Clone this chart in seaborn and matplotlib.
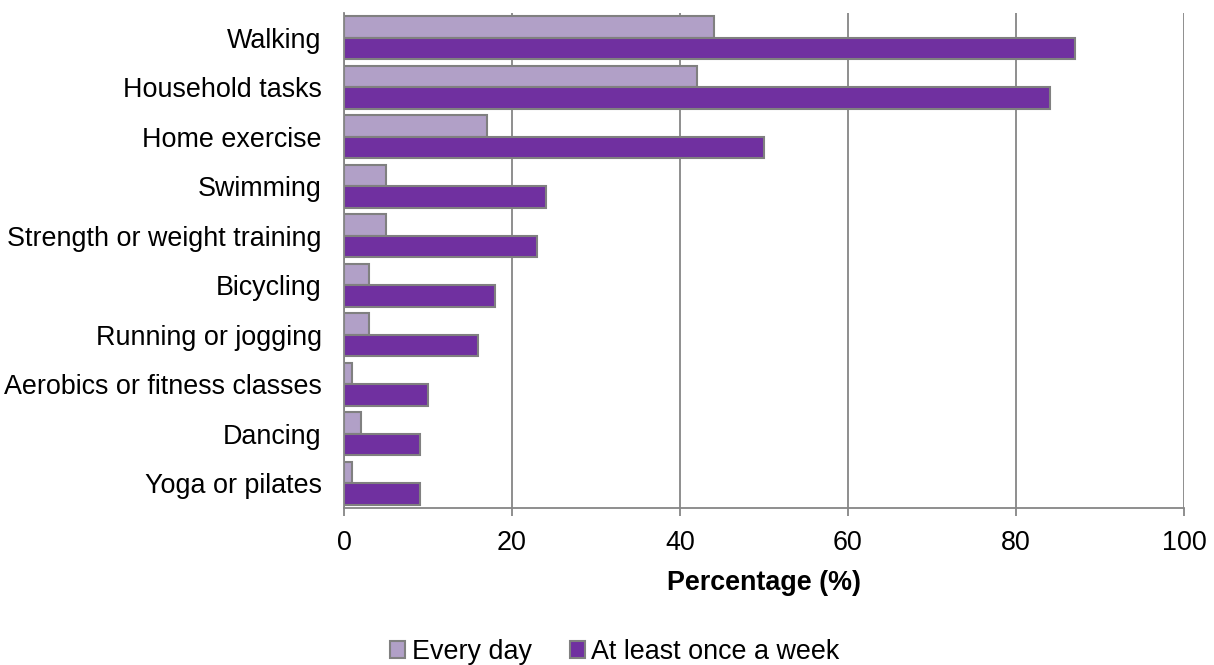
import matplotlib
matplotlib.use("Agg")
import matplotlib.pyplot as plt
import seaborn as sns
import pandas as pd
from matplotlib.patches import Patch

activities = [
    "Walking", "Household tasks", "Home exercise", "Swimming",
    "Strength or weight training", "Bicycling", "Running or jogging",
    "Aerobics or fitness classes", "Dancing", "Yoga or pilates",
]
every_day = [44, 42, 17, 5, 5, 3, 3, 1, 2, 1]
once_a_week = [87, 84, 50, 24, 23, 18, 16, 10, 9, 9]
series_names = ["Every day", "At least once a week"]
x_ticks = [0, 20, 40, 60, 80, 100]

colors = ["#B1A0C7", "#7030A0"]
edge = "#808080"
grid_col = "#868686"

df = pd.DataFrame({
    "Activity": activities * 2,
    "Percentage": every_day + once_a_week,
    "Frequency": [series_names[0]] * len(activities) + [series_names[1]] * len(activities),
})

sns.set_style("white")
plt.rcParams["font.family"] = ["Liberation Sans", "DejaVu Sans"]
plt.rcParams["text.color"] = "black"
plt.rcParams["axes.labelcolor"] = "black"
plt.rcParams["xtick.labelcolor"] = "black"
plt.rcParams["ytick.labelcolor"] = "black"

fig = plt.figure(figsize=(12.14, 6.65), dpi=100)
ax = fig.add_axes([344 / 1214, 1 - 508 / 665, 840 / 1214, 495 / 665])

sns.barplot(
    data=df, y="Activity", x="Percentage", hue="Frequency",
    order=activities, hue_order=series_names, palette=colors,
    orient="h", width=0.87, dodge=True, ax=ax,
    edgecolor=edge, linewidth=1.5, legend=False, saturation=1,
)

ax.set_xlim(0, 100)
ax.set_ylim(len(activities) - 0.5, -0.5)
ax.set_xticks(x_ticks)
ax.set_xticklabels([str(t) for t in x_ticks])
ax.set_axisbelow(True)
ax.grid(axis="x", color=grid_col, linewidth=1.3)
ax.grid(axis="y", visible=False)

for side in ["top", "right"]:
    ax.spines[side].set_visible(False)
for side in ["left", "bottom"]:
    ax.spines[side].set_color(grid_col)
    ax.spines[side].set_linewidth(1.3)

ax.tick_params(axis="x", direction="out", length=6, width=1.3, color=grid_col,
               labelsize=19.4, pad=10, labelcolor="black", bottom=True)
ax.tick_params(axis="y", length=0, labelsize=19.4, pad=16, labelcolor="black")
ax.set_ylabel("")
ax.set_xlabel("Percentage (%)", fontsize=19.4, fontweight="bold", labelpad=10,
              color="black")

handles = [Patch(facecolor=c, edgecolor=edge, linewidth=1.5) for c in colors]
leg = fig.legend(handles, series_names, loc="center",
                 bbox_to_anchor=(615 / 1214, 1 - 652 / 665),
                 ncol=2, frameon=False, fontsize=19.4, handlelength=0.55,
                 handleheight=0.55, handletextpad=0.25, columnspacing=1.4)
for t in leg.get_texts():
    t.set_color("black")

fig.savefig("out.png", dpi=100)
